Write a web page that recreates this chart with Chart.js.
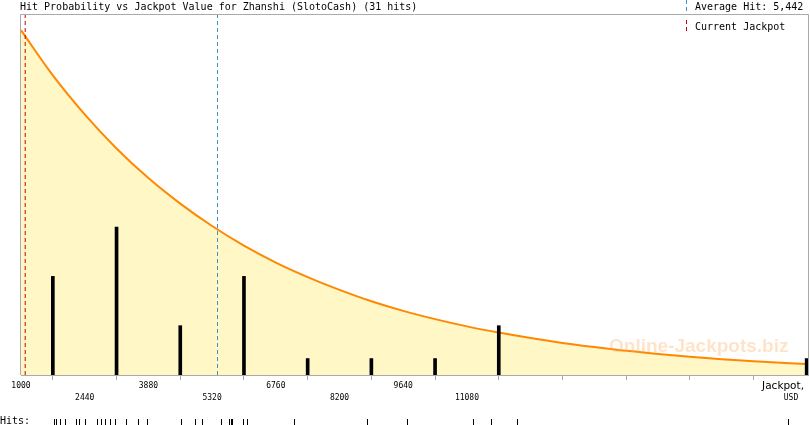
<!DOCTYPE html>
<html>
<head>
<meta charset="utf-8">
<script src="https://cdn.jsdelivr.net/npm/chart.js@4.4.1/dist/chart.umd.min.js"></script>
<style>
html,body{margin:0;padding:0;background:#fff;}
#wrap{width:810px;height:425px;}
</style>
</head>
<body>
<div id="wrap"><canvas id="c" width="810" height="425"></canvas></div>
<script>
// ---- data ----
const titleText = 'Hit Probability vs Jackpot Value for Zhanshi (SlotoCash) (31 hits)';
const binCenters = [1720, 3160, 4600, 6040, 7480, 8920, 10360, 11800, 18760];
const binHits = [6, 9, 3, 6, 1, 1, 1, 3, 1];
const curveX = [1000,1720,2440,3160,3880,4600,5320,6040,6760,7480,8200,8920,9640,10360,11080,11800,12520,13240,13960,14680,15400,16120,16840,17560,18280,18790];
const curveP = [1.000,0.869,0.756,0.657,0.571,0.497,0.432,0.375,0.326,0.284,0.247,0.214,0.186,0.162,0.141,0.123,0.107,0.093,0.081,0.070,0.061,0.053,0.046,0.040,0.035,0.032];
const hitValues = [1736,1797,1872,1985,2242,2301,2453,2717,2814,2904,3017,3130,3379,3643,3846,4621,4922,5089,5518,5712,5744,5780,6029,6119,7181,8816,9720,11224,11617,12218,18340];
const tickValues = [1000,2440,3880,5320,6760,8200,9640,11080,12520,13960,15400,16840,18280];
const tickLabels = ['1000','2440','3880','5320','6760','8200','9640','11080','','','','',''];
const currentJackpot = 1095;
const averageHit = 5442;
const averageLabel = 'Average Hit: 5,442';
const currentLabel = 'Current Jackpot';
const xMin = 1000, xMax = 18790;

const MONO = '"DejaVu Sans Mono", "Liberation Mono", monospace';

const decorPlugin = {
  id: 'decor',
  afterDatasetsDraw(chart) {
    const ctx = chart.ctx, a = chart.chartArea, xs = chart.scales.x;
    ctx.save();
    // watermark
    ctx.font = 'bold 19px "Liberation Sans", Arial, sans-serif';
    ctx.fillStyle = 'rgba(255,170,90,0.33)';
    ctx.textAlign = 'left'; ctx.textBaseline = 'middle';
    ctx.fillText('Online-Jackpots.biz', 609, 347);
    // frame
    ctx.strokeStyle = '#aaaaaa'; ctx.lineWidth = 1;
    ctx.beginPath();
    ctx.moveTo(a.left - 0.5, a.bottom);
    ctx.lineTo(a.left - 0.5, a.top - 0.5);
    ctx.lineTo(a.right + 0.5, a.top - 0.5);
    ctx.lineTo(a.right + 0.5, a.bottom);
    ctx.stroke();
    // title
    ctx.fillStyle = '#000';
    ctx.font = '10px ' + MONO;
    ctx.textBaseline = 'middle';
    ctx.fillText(titleText, 20, 7);
    // legend
    ctx.lineWidth = 1;
    ctx.setLineDash([4, 3]);
    ctx.strokeStyle = '#3a93c8';
    ctx.beginPath(); ctx.moveTo(686.5, 0); ctx.lineTo(686.5, 11); ctx.stroke();
    ctx.strokeStyle = '#cc0000';
    ctx.beginPath(); ctx.moveTo(686.5, 20); ctx.lineTo(686.5, 33); ctx.stroke();
    ctx.setLineDash([]);
    ctx.fillText(averageLabel, 695, 7);
    ctx.fillText(currentLabel, 695, 27);
    // axis title
    ctx.font = '10.5px "DejaVu Sans", sans-serif';
    ctx.textAlign = 'right';
    ctx.fillText('Jackpot,', 804, 386);
    ctx.font = '8px ' + MONO;
    ctx.textAlign = 'center';
    ctx.fillText('USD', 791, 398);
    // hits row
    ctx.textAlign = 'left';
    ctx.font = '10px ' + MONO;
    ctx.fillText('Hits:', 0, 421);
    ctx.strokeStyle = '#000';
    ctx.beginPath();
    hitValues.forEach(v => {
      const px = Math.round(xs.getPixelForValue(v)) + 0.5;
      ctx.moveTo(px, 419); ctx.lineTo(px, 425);
    });
    ctx.stroke();
    ctx.restore();
  }
};

const yHitsMax = 21.9;
const yProbMax = 1.044;

new Chart(document.getElementById('c'), {
  data: {
    datasets: [
      {
        type: 'line', label: 'probability',
        data: curveX.map((x, i) => ({x, y: curveP[i]})),
        yAxisID: 'yp', borderColor: '#ff8800', borderWidth: 2,
        backgroundColor: '#fff7c6', fill: 'origin',
        pointRadius: 0, tension: 0.4, cubicInterpolationMode: 'monotone', order: 3
      },
      {
        type: 'bar', label: 'hits',
        data: binCenters.map((x, i) => ({x, y: binHits[i]})),
        yAxisID: 'yh', backgroundColor: '#000', barThickness: 3, order: 1
      },
      {
        type: 'line', label: 'current',
        data: [{x: currentJackpot, y: 0}, {x: currentJackpot, y: yHitsMax}],
        yAxisID: 'yh', borderColor: '#cc0000', borderWidth: 1, borderDash: [4, 3],
        pointRadius: 0, fill: false, order: 0
      },
      {
        type: 'line', label: 'average',
        data: [{x: averageHit, y: 0}, {x: averageHit, y: yHitsMax}],
        yAxisID: 'yh', borderColor: '#3a93c8', borderWidth: 1, borderDash: [4, 3],
        pointRadius: 0, fill: false, order: 0
      }
    ]
  },
  options: {
    responsive: false, animation: false, devicePixelRatio: 1,
    layout: {padding: {left: 21, right: 2, top: 15, bottom: 0}},
    plugins: {legend: {display: false}, tooltip: {enabled: false}, title: {display: false}},
    scales: {
      x: {
        type: 'linear', min: xMin, max: xMax, offset: false,
        afterBuildTicks: s => { s.ticks = tickValues.map(v => ({value: v})); },
        afterFit: s => { s.height = 50; s.paddingLeft = 0; s.paddingRight = 0; },
        grid: {drawOnChartArea: false, drawTicks: true, tickLength: 5, color: '#aaaaaa'},
        border: {display: true, color: '#aaaaaa'},
        ticks: {
          autoSkip: false, maxRotation: 0, minRotation: 0, padding: 0, color: '#000',
          font: {family: MONO, size: 8, lineHeight: 1.5},
          callback: (v, i) => {
            const idx = tickValues.indexOf(v);
            const lab = idx >= 0 ? tickLabels[idx] : '';
            return idx % 2 === 0 ? [lab, ''] : ['', lab];
          }
        }
      },
      yh: {type: 'linear', display: false, min: 0, max: yHitsMax, position: 'left'},
      yp: {type: 'linear', display: false, min: 0, max: yProbMax, position: 'right'}
    }
  },
  plugins: [decorPlugin]
});
</script>
</body>
</html>
